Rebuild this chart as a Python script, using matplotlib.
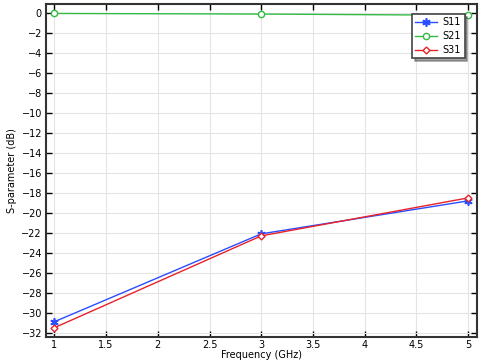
import matplotlib
matplotlib.use('Agg')
import matplotlib.pyplot as plt

# 데이터
freq = [1, 3, 5]
s11 = [-30.9, -22.1, -18.8]
s21 = [-0.02, -0.08, -0.2]
s31 = [-31.5, -22.3, -18.5]
xticks = [1, 1.5, 2, 2.5, 3, 3.5, 4, 4.5, 5]
yticks = list(range(0, -33, -2))

plt.rcParams['font.size'] = 7
fig = plt.figure(figsize=(4.91, 3.61), dpi=100)
ax = fig.add_axes([0.094, 0.066, 0.877, 0.923])

ax.plot(freq, s11, color='#2a4dff', lw=1, marker=(6, 2, 0), ms=6, mew=1.2, label='S11')
ax.plot(freq, s21, color='#33bb44', lw=1, marker='o', ms=4.5, mfc='white', mew=1, label='S21')
ax.plot(freq, s31, color='#e8222a', lw=1, marker='D', ms=3.5, mfc='white', mew=1, label='S31')

ax.set_xlim(0.92, 5.085)
ax.set_ylim(-32.45, 0.93)
ax.set_xticks(xticks)
ax.set_xticklabels([f'{t:g}' for t in xticks])
ax.set_yticks(yticks)
ax.grid(True, color='#e4e4e4', lw=0.8)
ax.tick_params(direction='in', top=True, right=True, length=4, width=1)
ax.tick_params(axis='x', pad=2)
ax.tick_params(axis='y', pad=3)
for sp in ax.spines.values():
    sp.set_linewidth(1.5)
    sp.set_color('#333333')

ax.set_xlabel('Frequency (GHz)', labelpad=0)
ax.set_ylabel('S-parameter (dB)', labelpad=3)

leg = ax.legend(loc='upper right', bbox_to_anchor=(0.983, 0.985), fancybox=False,
                framealpha=1, edgecolor='#444444', handlelength=2.2, borderpad=0.35,
                labelspacing=0.4, handletextpad=0.6, shadow=True)
leg.get_frame().set_linewidth(1.2)

fig.savefig('out.png', dpi=100)
